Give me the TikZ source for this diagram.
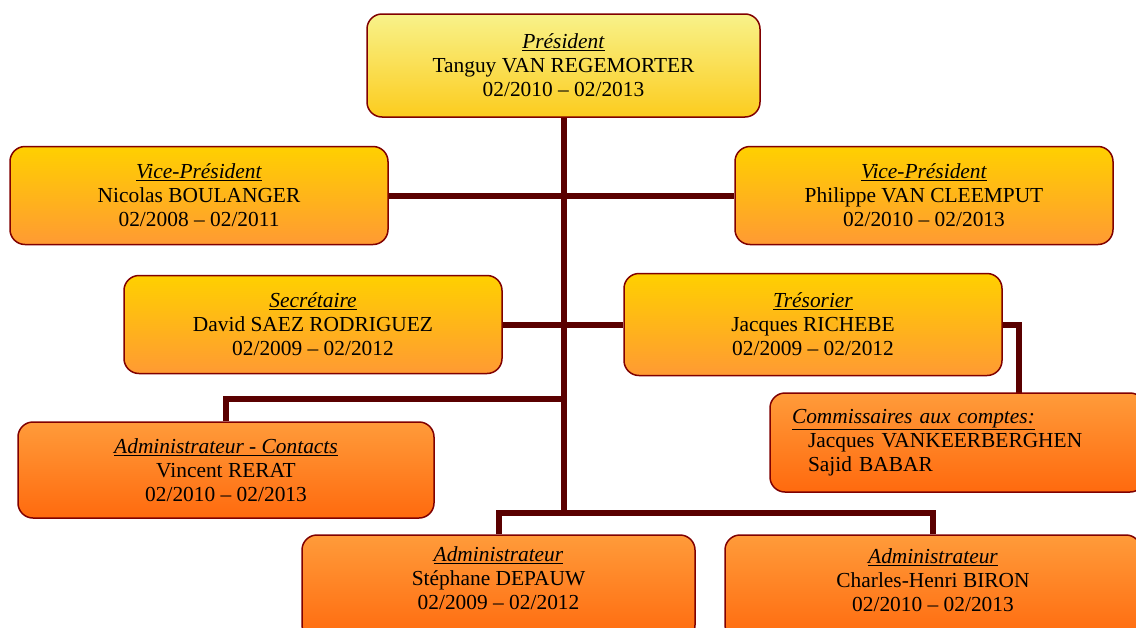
\documentclass[tikz,border=0pt]{standalone}
\usepackage{fontspec}
\setmainfont{Liberation Serif}
\usetikzlibrary{backgrounds}
\definecolor{presTop}{HTML}{F8F28A}
\definecolor{presBot}{HTML}{FCCC1E}
\definecolor{vpTop}{HTML}{FFD000}
\definecolor{vpBot}{HTML}{FF9A33}
\definecolor{adTop}{HTML}{FF9B3A}
\definecolor{adBot}{HTML}{FF6A0E}
\definecolor{edgeC}{HTML}{800000}
\definecolor{connC}{HTML}{5A0000}
\newcommand{\ttl}[1]{\underline{\textit{#1}}}
\tikzset{
  box/.style={draw=edgeC, line width=1.5pt, rounded corners=15pt, align=center,
    font=\fontsize{21.4}{24}\selectfont, inner sep=0pt},
  yel/.style={box, top color=presTop, bottom color=presBot},
  ora/.style={box, top color=vpTop, bottom color=vpBot},
  red/.style={box, top color=adTop, bottom color=adBot},
  txt/.style={align=center, font=\fontsize{21.4}{24}\selectfont, inner sep=0pt},
  conn/.style={draw=connC, line width=6pt}
}
\begin{document}
\begin{tikzpicture}[x=1pt,y=-1pt]
\useasboundingbox (0,0) rectangle (1136,627);
\clip (0,0) rectangle (1136,627);

\node[yel, minimum width=393pt, minimum height=103pt] (pres) at (563.5,65.5)
  {\ttl{Président}\\Tanguy VAN REGEMORTER\\02/2010 – 02/2013};
\node[ora, minimum width=378pt, minimum height=98pt] (vpl) at (199,195.5)
  {\ttl{Vice-Président}\\Nicolas BOULANGER\\02/2008 – 02/2011};
\node[ora, minimum width=378pt, minimum height=98pt] (vpr) at (924,195.5)
  {\ttl{Vice-Président}\\Philippe VAN CLEEMPUT\\02/2010 – 02/2013};
\node[ora, minimum width=378pt, minimum height=98pt] (sec) at (313,324.5)
  {\ttl{Secrétaire}\\David SAEZ RODRIGUEZ\\02/2009 – 02/2012};
\node[ora, minimum width=378pt, minimum height=102pt] (tres) at (813,324.5)
  {\ttl{Trésorier}\\Jacques RICHEBE\\02/2009 – 02/2012};
\node[red, minimum width=375pt, minimum height=99pt, text width=331pt, inner xsep=22pt, align=left] (comm) at (957.5,442.5)
  {\ttl{Commissaires aux comptes:}\\\hspace*{16pt}Jacques VANKEERBERGHEN\\\hspace*{16pt}Sajid BABAR};
\node[red, minimum width=416pt, minimum height=96pt] (adc) at (226,470)
  {\ttl{Administrateur - Contacts}\\Vincent RERAT\\02/2010 – 02/2013};
\node[red, minimum width=393pt, minimum height=105pt] (ad1) at (498.5,587.5) {};
\node[txt] (ad1t) at (498.5,578) {\ttl{Administrateur}\\Stéphane DEPAUW\\02/2009 – 02/2012};
\node[red, minimum width=416pt, minimum height=105pt] (ad2) at (933,587.5) {};
\node[txt] (ad2t) at (933,580) {\ttl{Administrateur}\\Charles-Henri BIRON\\02/2010 – 02/2013};

\coordinate (hub) at (563.5,513);
\coordinate (jadc) at (563.5,399);
\coordinate (ct) at (1019,393);

\begin{scope}[on background layer]
  \fill[white] (0,0) rectangle (1136,627);
  \draw[conn] (pres.south) -- (hub);
  \draw[conn] (vpl.east) -- (vpr.west);
  \draw[conn] (sec.east) -- (tres.west);
  \draw[conn] (adc.north) |- (jadc);
  \draw[conn] (ad1.north) |- (hub) -| (ad2.north);
  \draw[conn] (tres.east) -| (ct);
\end{scope}
\end{tikzpicture}
\end{document}
